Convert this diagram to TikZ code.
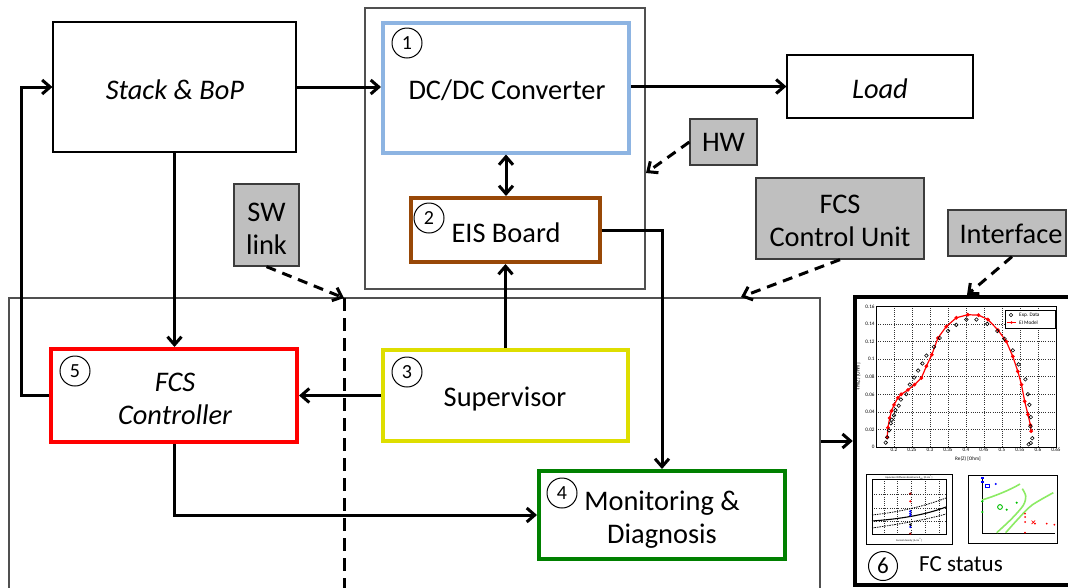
\documentclass[tikz,border=0pt]{standalone}
\usepackage{fontspec}
\setmainfont{Carlito}
\usetikzlibrary{arrows.meta,calc}
\definecolor{dcblue}{RGB}{141,180,226}
\definecolor{eisbrown}{RGB}{152,72,7}
\definecolor{supyellow}{RGB}{222,222,0}
\definecolor{mongreen}{RGB}{0,128,0}
\definecolor{tagfill}{RGB}{191,191,191}
\definecolor{tagdraw}{RGB}{60,60,60}
\definecolor{framegray}{RGB}{80,80,80}
\definecolor{lgreen}{RGB}{140,235,100}
\newcommand\bigf{\fontsize{28.4}{33}\selectfont}
\newcommand\tinyf{\fontsize{5.2}{6}\selectfont}
\newcommand\microf{\fontsize{2.6}{3}\selectfont}
\tikzset{
  frame/.style={draw=framegray, line width=1.2pt, rectangle, inner sep=0pt},
  panel/.style={draw=black, line width=4.5pt, rectangle, inner sep=0pt},
  blk/.style={rectangle, inner sep=0pt},
  txt/.style={inner sep=0pt, align=center, font=\bigf},
  tag/.style={draw=tagdraw, fill=tagfill, line width=1.3pt, rectangle, inner sep=0pt},
  num/.style={circle, draw, line width=1pt, minimum size=30pt, inner sep=0pt, font=\fontsize{20}{20}\selectfont},
  conn/.style={line width=3pt},
  dconn/.style={line width=3pt, dash pattern=on 10pt off 7pt},
  vdash/.style={line width=3pt, dash pattern=on 13pt off 7pt},
  gridl/.style={line width=0.55pt, dash pattern=on 0.9pt off 1.3pt, black!80},
  expc/.style={line width=0.6pt, black},
}
\begin{document}
\begin{tikzpicture}[x=1pt,y=-1pt,>={Straight Barb[length=8pt,width=14pt]}]
\useasboundingbox (0,0) rectangle (1068,587);
\clip (0,0) rectangle (1068,587);

% frames
\node[frame, minimum width=280pt, minimum height=281pt] (hwframe) at (505,148.5) {};
\node[frame, minimum width=811pt, minimum height=300pt] (lowframe) at (414.5,448) {};
\node[panel, minimum width=225pt, minimum height=288pt] (panel) at (967.5,441) {};

% blocks (boxes)
\node[blk, draw=black, line width=1.2pt, minimum width=243pt, minimum height=130pt] (stack) at (174.5,87) {};
\node[blk, draw=dcblue, line width=4pt, minimum width=246pt, minimum height=130pt] (dcdc) at (506,87.5) {};
\node[blk, draw=black, line width=1.2pt, minimum width=186pt, minimum height=63pt] (load) at (880,86.5) {};
\node[blk, draw=eisbrown, line width=4pt, minimum width=189pt, minimum height=64pt] (eis) at (505.5,230) {};
\node[blk, draw=red, line width=4pt, minimum width=246pt, minimum height=93pt] (fcsctrl) at (174,395.5) {};
\node[blk, draw=supyellow, line width=4pt, minimum width=245pt, minimum height=91pt] (sup) at (505.5,395.5) {};
\node[blk, draw=mongreen, line width=4pt, minimum width=246pt, minimum height=88pt] (mon) at (662,515) {};

% block texts
\node[txt, font=\bigf\itshape] (stackt) at (175,90) {Stack \& BoP};
\node[txt] (dcdct) at (507,90.5) {DC/DC Converter};
\node[txt, font=\bigf\itshape] (loadt) at (880,89) {Load};
\node[txt] (eist) at (506,233) {EIS Board};
\node[txt, font=\bigf\itshape] (fcsctrlt) at (175,399) {FCS\\Controller};
\node[txt] (supt) at (505,399) {Supervisor};
\node[txt] (mont) at (662,520) {Monitoring \&\\Diagnosis};

% tags
\node[tag, minimum width=67pt, minimum height=46pt] (hwtag) at (723.5,142) {};
\node[tag, minimum width=168pt, minimum height=81pt] (unittag) at (840,218.5) {};
\node[tag, minimum width=118pt, minimum height=46pt] (iftag) at (1007,233) {};
\node[tag, minimum width=65pt, minimum height=82pt] (swtag) at (266.5,225) {};
\node[txt] (hwt) at (723.5,142.5) {HW};
\node[txt] (unitt) at (840,221) {FCS\\Control Unit};
\node[txt] (ift) at (1011,234) {Interface};
\node[txt] (swt) at (266.5,229) {SW\\link};

% numbers
\node[num] (n1) at (407,43) {1};
\node[num] (n2) at (429,218) {2};
\node[num] (n3) at (407,372) {3};
\node[num] (n4) at (562,493) {4};
\node[num] (n5) at (75,371) {5};

% connector end coordinates
\coordinate (hwtip) at (646,173);
\coordinate (unittip) at (741,297);
\coordinate (iftip) at (967,295);
\coordinate (swtop) at (344,298);
\coordinate (swbot) at (344,592);

% solid connectors
\draw[conn,->] (stack.east) -- (stack.east -| dcdc.west);
\draw[conn,->] (dcdc.east |- load.west) -- (load.west);
\draw[conn,<->] (dcdc.south) -- (dcdc.south |- eis.north);
\draw[conn,->] (stack.south) -- (stack.south |- fcsctrl.north);
\draw[conn,->] (fcsctrl.west) -- ++(-28,0) |- (stack.west);
\draw[conn,->] (sup.west) -- (fcsctrl.east);
\draw[conn,->] (sup.north) -- (sup.north |- eis.south);
\draw[conn,->] (eis.east) -| (mon.north);
\draw[conn,->] (fcsctrl.south) |- (mon.west);
\draw[conn,->] (lowframe.east |- panel.west) -- (panel.west);

% dashed connectors
\draw[dconn,->] (hwtag.west) -- (hwtip);
\draw[dconn,->] (unittag.south) -- (unittip);
\draw[dconn,->] ([xshift=5pt]iftag.south) -- (iftip);
\draw[dconn,->] (swtag.south) -- (swtop);
\draw[vdash] (swtop) -- (swbot);

% ---------- main Nyquist plot ----------
\begin{scope}[shift={(822pt,-447pt)}, x=360pt, y=879pt]
  \foreach \gx in {0.2,0.25,0.3,0.35,0.4,0.45,0.5,0.55,0.6}
    \draw[gridl] (\gx,0) -- (\gx,0.16);
  \foreach \gy in {0.02,0.04,0.06,0.08,0.1,0.12,0.14}
    \draw[gridl] (0.15,\gy) -- (0.65,\gy);
  \draw[line width=0.6pt] (0.15,0) rectangle (0.65,0.16);
  \foreach \l [count=\i] in {0.2,0.25,0.3,0.35,0.4,0.45,0.5,0.55,0.6,0.65}
    \node[font=\tinyf, anchor=north, inner sep=1.2pt] (xt\i) at (\l,0) {\l};
  \foreach \l [count=\i] in {0,0.02,0.04,0.06,0.08,0.1,0.12,0.14,0.16}
    \node[font=\tinyf, anchor=east, inner sep=1.2pt] (yt\i) at (0.15,\l) {\l};
  \draw[red, line width=1.2pt, mark=*, mark size=1.2pt] plot coordinates {
    (0.181,0.011) (0.183,0.022) (0.188,0.033) (0.193,0.041) (0.2,0.048)
    (0.211,0.056) (0.22,0.06) (0.239,0.065) (0.257,0.071) (0.276,0.0785)
    (0.29,0.092) (0.305,0.105) (0.322,0.124) (0.345,0.137) (0.373,0.147)
    (0.405,0.1505) (0.435,0.15) (0.461,0.145) (0.489,0.133) (0.512,0.12)
    (0.53,0.103) (0.544,0.086) (0.554,0.071) (0.563,0.052) (0.572,0.037)
    (0.579,0.025) (0.581,0.018)};
  \foreach \p in {(0.177,0.005),(0.181,0.011),(0.186,0.019),(0.191,0.027),(0.194,0.031),
    (0.2,0.036),(0.204,0.042),(0.213,0.047),(0.219,0.054),(0.234,0.06),
    (0.244,0.071),(0.256,0.079),(0.267,0.087),(0.279,0.095),(0.29,0.104),
    (0.311,0.114),(0.327,0.124),(0.35,0.132),(0.373,0.139),(0.401,0.145),
    (0.429,0.145),(0.459,0.14),(0.487,0.132),(0.507,0.123),(0.53,0.11),
    (0.546,0.094),(0.565,0.077),(0.572,0.06),(0.576,0.048),(0.58,0.034),
    (0.579,0.0235),(0.584,0.01),(0.58,0.0045),(0.574,0.003)}
    \draw[expc] \p circle[radius=1.8pt];
\end{scope}
\node[font=\tinyf, inner sep=0pt] (rez) at (968,459) {Re(Z) [Ohm]};
\node[font=\tinyf, inner sep=0pt, rotate=90] (imz) at (858,377) {-Im(Z) [Ohm]};
% legend
\draw[line width=0.6pt, fill=white] (1005,310) rectangle (1055,328);
\draw[expc] (1011,315) circle[radius=1.8pt];
\node[font=\tinyf, anchor=west, inner sep=0pt] (leg1) at (1019,315) {Exp. Data};
\draw[red, line width=1.1pt] (1007,322.5) -- (1016,322.5);
\fill[red] (1011.5,322.5) circle[radius=1.3pt];
\node[font=\tinyf, anchor=west, inner sep=0pt] (leg2) at (1019,322.5) {EI Model};

% ---------- small left plot ----------
\draw[line width=0.9pt, fill=white] (866,474) rectangle (952,544);
\foreach \gx in {884,897,911,925,939}
  \draw[gridl] (\gx,479) -- (\gx,534);
\foreach \gy in {494,508,521}
  \draw[gridl] (872,\gy) -- (946,\gy);
\draw[line width=0.9pt] (872,479) rectangle (946,534);
\draw[line width=1.1pt] (872,521) .. controls (900,519) and (925,515) .. (946,507);
\draw[line width=0.8pt, dash pattern=on 1.5pt off 1pt] (872,515) .. controls (900,512) and (925,506) .. (946,498);
\draw[line width=0.8pt, dash pattern=on 1.5pt off 1pt] (872,528) .. controls (900,524) and (925,520) .. (946,514);
\fill[red!60!black] (910.3,493.7) circle[radius=1.4pt];
\fill[red] (910.3,501.3) circle[radius=1.2pt];
\fill[blue] (910.3,511.3) circle[radius=1.3pt];
\fill[blue] (910.3,513.7) circle[radius=1.3pt];
\fill[blue] (910.3,515.5) circle[radius=1.2pt];
\fill[black] (910.3,524.7) circle[radius=1.3pt];
\fill[blue] (910.3,527) circle[radius=1.2pt];
\fill[red!60!black] (910.3,533.7) circle[radius=1.3pt];
\node[font=\microf, inner sep=0pt] (lt) at (909,477) {Equivalent Diffusion Resistance R\textsubscript{diff} [Ω.cm\textsuperscript{2}]};
\node[font=\microf, inner sep=0pt] (lx) at (909,540.5) {Current density [A.cm\textsuperscript{-2}]};

% ---------- small right plot ----------
\draw[line width=0.9pt, fill=white] (968,475) rectangle (1057,543);
\draw[line width=0.9pt] (982,479) -- (982,533) -- (1055,533);
\draw[lgreen, line width=1.6pt] (982,500) .. controls (995,496) and (1010,490) .. (1020,484);
\draw[lgreen, line width=1.6pt] plot[smooth] coordinates {(996.7,532.7) (1011.7,518.7) (1023.3,505.3) (1025.7,496) (1022.3,488.7)};
\draw[lgreen, line width=1.6pt] plot[smooth] coordinates {(1005.7,532.7) (1018.3,518.7) (1031.7,505.3) (1053.3,492.7)};
\fill[blue] (981.1,476.8) rectangle ++(2.4,2.4);
\fill[blue] (981.1,480.8) rectangle ++(2.4,2.4);
\draw[blue, line width=0.8pt] (985,484.3) rectangle ++(4,3.4);
\fill[blue] (995.7,484) circle[radius=1.2pt];
\fill[green!75!black] (982.3,501.3) circle[radius=1.3pt];
\fill[green!75!black] (982.3,512) circle[radius=1.3pt];
\draw[green!75!black, line width=0.9pt] (1000,507) circle[radius=2.4pt];
\fill[green!75!black] (1006.7,509.7) circle[radius=1.2pt];
\fill[green!75!black] (1016.7,502.7) circle[radius=1.2pt];
\foreach \p in {(1025,513.7),(1025,517),(1025,522),(1035,523.7),(1046.7,523.7),(1054.3,524.7),(1025,532.7)}
  \fill[red] \p circle[radius=1pt];
\draw[red, line width=0.7pt] (1031.5,520.5) -- (1035,524) (1031.5,524) -- (1035,520.5);

% FC status
\node[num, minimum size=29pt, font=\fontsize{23}{23}\selectfont] (n6) at (883,566) {6};
\node[font=\fontsize{23}{26}\selectfont, anchor=west, inner sep=0pt] (fcs) at (919,564) {FC status};
\end{tikzpicture}
\end{document}
